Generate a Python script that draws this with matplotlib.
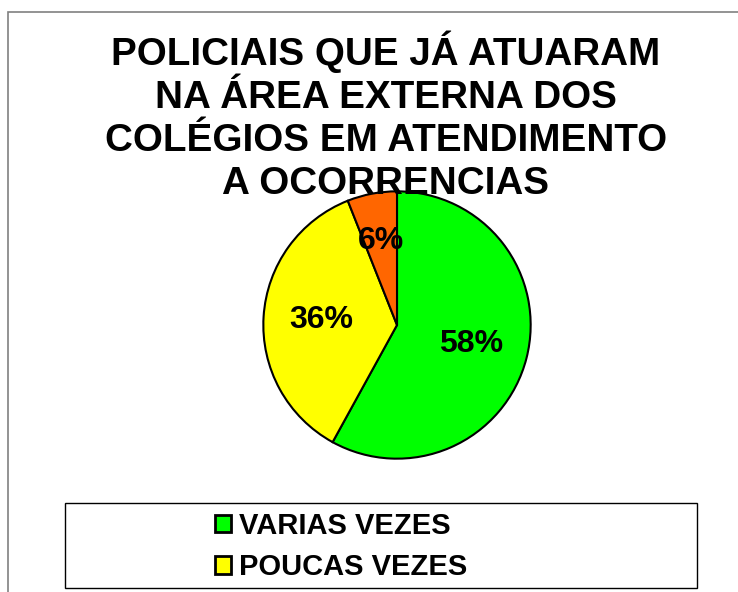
import matplotlib
matplotlib.use("Agg")
import matplotlib.pyplot as plt
from matplotlib.patches import Rectangle

title = "POLICIAIS QUE JÁ ATUARAM\nNA ÁREA EXTERNA DOS\nCOLÉGIOS EM ATENDIMENTO\nA OCORRENCIAS"
values = [58, 36, 6]
colors = ["#00FF00", "#FFFF00", "#FF6600"]
legend_labels = ["VARIAS VEZES", "POUCAS VEZES"]

plt.rcParams['font.family'] = ['Liberation Sans', 'DejaVu Sans']

W, H = 738, 592
fig = plt.figure(figsize=(W / 100, H / 100), dpi=100)

# outer frame
fig.patches.append(Rectangle((8 / W, -0.1), 1.2, 1 - 12 / H + 0.1, transform=fig.transFigure,
                             fill=False, edgecolor="#808080", linewidth=1.2))

cx, cy, r = 397, 325, 135
ax = fig.add_axes([(cx - r) / W, (H - cy - r) / H, 2 * r / W, 2 * r / H])
wedges, texts, autotexts = ax.pie(values, colors=colors, startangle=90, counterclock=False,
                                  autopct="%d%%", pctdistance=0.57,
                                  wedgeprops=dict(edgecolor="black", linewidth=1.5),
                                  textprops=dict(fontsize=23, fontweight="bold", color="black"))
autotexts[2].set_position((autotexts[2].get_position()[0] * 1.12, autotexts[2].get_position()[1] * 1.12))
ax.set_aspect("equal")
ax.set_xlim(-1.01, 1.01)
ax.set_ylim(-1.01, 1.01)

fig.text(386 / W, 1 - 116 / H, title, ha="center", va="center", fontsize=27.8,
         fontweight="bold", linespacing=1.25)

# legend box
fig.patches.append(Rectangle((65 / W, 1 - 588 / H), (697 - 65) / W, (588 - 503) / H,
                             transform=fig.transFigure, fill=False, edgecolor="black", linewidth=1.0))
leg = fig.legend(wedges[:2], legend_labels, loc="upper left",
                 bbox_to_anchor=(203 / W, 1 - 500 / H), frameon=False,
                 prop=dict(size=21, weight="bold"), handlelength=0.55, handleheight=0.55,
                 handletextpad=0.3, labelspacing=0.47, borderaxespad=0)
for h in leg.legend_handles:
    h.set_linewidth(2)

fig.savefig("out.png", dpi=100)
